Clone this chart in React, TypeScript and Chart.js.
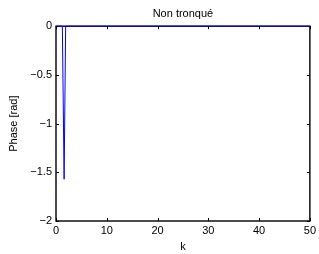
import React, { useEffect, useRef } from "react";
import { Chart, registerables } from "chart.js";

Chart.register(...registerables);

const kValues = [0, 1.25, 1.6, 1.9, 50];
const phaseValues = [0, 0, -1.5708, 0, 0];
const xTicks = [0, 10, 20, 30, 40, 50];
const yTicks = [0, -0.5, -1, -1.5, -2];
const yTickLabels = ["0", "\u22120.5", "\u22121", "\u22121.5", "\u22122"];
const titleText = "Non tronqu\u00e9";
const xLabel = "k";
const yLabel = "Phase [rad]";

const FONT = "'Liberation Sans', Arial, Helvetica, sans-serif";

const boxPlugin = {
  id: "matlabBox",
  beforeDatasetsDraw(chart: any) {
    const { ctx, chartArea: a, scales } = chart;
    ctx.save();
    ctx.strokeStyle = "#000";
    ctx.lineWidth = 1.4;
    ctx.strokeRect(a.left, a.top, a.right - a.left, a.bottom - a.top);
    const L = 3;
    ctx.lineWidth = 1;
    ctx.beginPath();
    xTicks.forEach((v) => {
      const x = Math.round(scales.x.getPixelForValue(v)) + 0.5;
      ctx.moveTo(x, a.bottom);
      ctx.lineTo(x, a.bottom - L);
      ctx.moveTo(x, a.top);
      ctx.lineTo(x, a.top + L);
    });
    yTicks.forEach((v) => {
      const y = Math.round(scales.y.getPixelForValue(v)) + 0.5;
      ctx.moveTo(a.left, y);
      ctx.lineTo(a.left + L, y);
      ctx.moveTo(a.right, y);
      ctx.lineTo(a.right - L, y);
    });
    ctx.stroke();
    ctx.restore();
  },
};

export default function App() {
  const ref = useRef<HTMLCanvasElement | null>(null);

  useEffect(() => {
    document.body.style.margin = "0";
    const canvas = ref.current;
    if (!canvas) return;
    const chart = new Chart(canvas, {
      type: "line",
      data: {
        datasets: [
          {
            data: kValues.map((k, i) => ({ x: k, y: phaseValues[i] })),
            borderColor: "#0000ff",
            borderWidth: 1,
            pointRadius: 0,
            tension: 0,
            fill: false,
            clip: false as any,
          },
        ],
      },
      options: {
        animation: false,
        responsive: false,
        maintainAspectRatio: false,
        layout: { padding: { left: 0, right: 9, top: 0, bottom: 0 } },
        plugins: {
          legend: { display: false },
          tooltip: { enabled: false },
          title: {
            display: true,
            fullSize: false,
            text: titleText,
            color: "#000",
            font: { family: FONT, size: 11, weight: "normal" as any, lineHeight: 1.2 },
            padding: { top: 7, bottom: 6 },
          },
        },
        scales: {
          x: {
            type: "linear",
            min: 0,
            max: 50,
            afterBuildTicks: (s: any) => {
              s.ticks = xTicks.map((v) => ({ value: v }));
            },
            afterFit: (s: any) => {
              s.height = 33;
            },
            grid: { display: false, drawTicks: false },
            border: { display: false },
            ticks: {
              color: "#000",
              padding: 3,
              maxRotation: 0,
              font: { family: FONT, size: 11 },
              callback: (v: any) => String(v),
            },
            title: {
              display: true,
              text: xLabel,
              color: "#000",
              font: { family: FONT, size: 11, lineHeight: 1.2 },
              padding: { top: 0, bottom: 0 },
            },
          },
          y: {
            type: "linear",
            min: -2,
            max: 0,
            afterBuildTicks: (s: any) => {
              s.ticks = yTicks.map((v) => ({ value: v }));
            },
            afterFit: (s: any) => {
              s.width = 56;
            },
            grid: { display: false, drawTicks: false },
            border: { display: false },
            ticks: {
              color: "#000",
              padding: 4,
              font: { family: FONT, size: 11 },
              callback: (v: any) => {
                const i = yTicks.indexOf(Number(v));
                return i >= 0 ? yTickLabels[i] : "";
              },
            },
            title: {
              display: true,
              text: yLabel,
              color: "#000",
              font: { family: FONT, size: 11, lineHeight: 1.2 },
              padding: { top: 7, bottom: 0 },
            },
          },
        },
      },
      plugins: [boxPlugin],
    });
    return () => chart.destroy();
  }, []);

  return (
    <div style={{ position: "fixed", left: 0, top: 0, width: 319, height: 254, background: "#fff" }}>
      <canvas ref={ref} width={319} height={254} style={{ display: "block", width: 319, height: 254 }} />
    </div>
  );
}
